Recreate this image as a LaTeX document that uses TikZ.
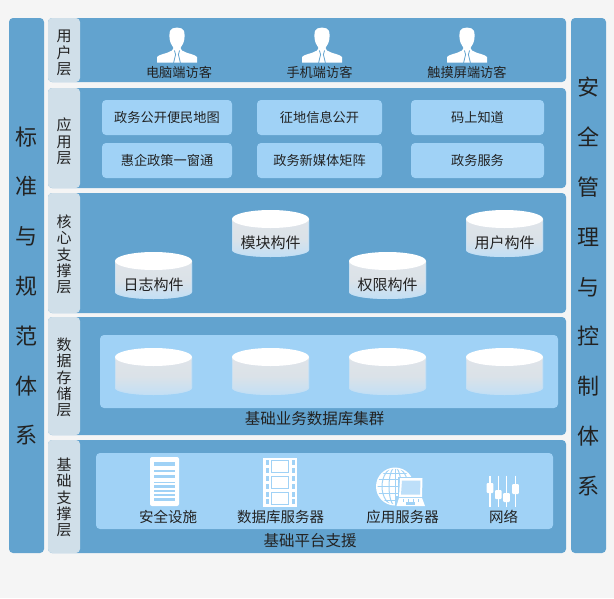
\documentclass[tikz,border=0pt]{standalone}
\usepackage{fontspec}
\setmainfont{Noto Sans CJK SC}
\usetikzlibrary{calc}
\definecolor{bgc}{HTML}{F5F5F5}
\definecolor{band}{HTML}{62A3CF}
\definecolor{tabc}{HTML}{D0DFE9}
\definecolor{panel}{HTML}{A0D2F6}
\definecolor{ink}{HTML}{222222}
\definecolor{cylg}{HTML}{DFE4E9}
\definecolor{cylm}{HTML}{DBE2E8}
\definecolor{cylb}{HTML}{C2DFF5}
\tikzset{
  bandbox/.style={fill=band,draw=none,rounded corners=4pt},
  tabbox/.style={fill=tabc,draw=none,rounded corners=4pt},
  panelbox/.style={fill=panel,draw=none,rounded corners=4pt},
  txt/.style={text=ink,inner sep=0pt,font=\fontsize{13.2}{15}\selectfont},
  captxt/.style={text=ink,inner sep=0pt,font=\fontsize{15}{17}\selectfont},
  vert/.style={text=ink,inner sep=0pt,align=center,font=\fontsize{15}{16.4}\selectfont},
  bigv/.style={text=ink,inner sep=0pt,align=center,font=\fontsize{22}{49.8}\selectfont},
  icon/.style={fill=white,draw=none},
  thinblue/.style={draw=panel,line width=.8pt},
}
% rect(name,x1,y1,x2,y2,style)
\newcommand{\rbox}[6]{\path[#6] (#2,#3) rectangle (#4,#5);\coordinate (#1) at ({(#2+#4)/2},{(#3+#5)/2});}
% app box
\newcommand{\appbox}[6]{\node[panelbox,minimum width=#4pt-#2pt,minimum height=#5pt-#3pt,inner sep=0pt,
  text=ink,font=\fontsize{13.2}{15}\selectfont] (#1) at ({(#2+#4)/2},{(#3+#5)/2}) {#6};}
% cylinder: name, left x, top y, label
\newcommand{\cyl}[4]{%
  \path[top color=cylg,bottom color=cylb,middle color=cylm]
    (#2,#3+9) -- ++(0,31) arc[start angle=180,end angle=0,x radius=38.5,y radius=7] -- ++(0,-31) -- cycle;
  \path[draw=cylb,line width=.8pt,opacity=.7]
    (#2+.4,#3+12) -- ++(0,28) arc[start angle=180,end angle=0,x radius=38.1,y radius=6.6] -- ++(0,-28);
  \path[fill=white] (#2+38.5,#3+9) ellipse[x radius=38.5,y radius=9];
  \node[captxt] (#1) at (#2+38.5,#3+33) {#4};}
% person icon centred at x
\newcommand{\person}[2]{\begin{scope}[shift={(#2,0)}]
  \path[icon] (-7,31) .. controls (-6,26.4) and (6,26.4) .. (7,31)
    .. controls (7.8,35) and (7.8,37) .. (7.2,40) .. controls (6.5,44) and (4,46.5) .. (3.5,48)
    -- (5,50.5) .. controls (9,53.5) and (19,54.5) .. (20,57) -- (20,62.5) -- (-20,62.5) -- (-20,57)
    .. controls (-19,54.5) and (-9,53.5) .. (-5,50.5) -- (-3.5,48)
    .. controls (-4,46.5) and (-6.5,44) .. (-7.2,40) .. controls (-7.8,37) and (-7.8,35) .. (-7,31) -- cycle;
  \draw[band,line width=.8pt] (-2.6,50.5) -- (-1.4,54.5) -- (-3.4,62.8);
  \draw[band,line width=.8pt] (2.6,50.5) -- (1.4,54.5) -- (3.4,62.8);
\end{scope}}
\begin{document}
\begin{tikzpicture}[x=1pt,y=-1pt]
\useasboundingbox (0,0) rectangle (614,598);
\path[fill=bgc] (0,0) rectangle (614,598);
% side columns
\rbox{leftcol}{9}{18}{44}{553}{bandbox}
\rbox{rightcol}{571}{18}{606}{553}{bandbox}
\node[bigv] (lefttxt) at (26.5,286) {标\\准\\与\\规\\范\\体\\系};
\node[bigv] (righttxt) at (588.5,286.5) {安\\全\\管\\理\\与\\控\\制\\体\\系};
% layers
\rbox{l1}{48}{18}{566}{82}{bandbox}
\rbox{l2}{48}{88}{566}{188}{bandbox}
\rbox{l3}{48}{193}{566}{313}{bandbox}
\rbox{l4}{48}{317}{566}{435}{bandbox}
\rbox{l5}{48}{440}{566}{553}{bandbox}
\rbox{t1}{48}{18}{80}{82}{tabbox}
\rbox{t2}{48}{88}{80}{188}{tabbox}
\rbox{t3}{48}{193}{80}{313}{tabbox}
\rbox{t4}{48}{317}{80}{435}{tabbox}
\rbox{t5}{48}{440}{80}{553}{tabbox}
\node[vert] (n1) at (64,53) {用\\户\\层};
\node[vert] (n2) at (64,141.5) {应\\用\\层};
\node[vert] (n3) at (64,254.5) {核\\心\\支\\撑\\层};
\node[vert] (n4) at (64,377.5) {数\\据\\存\\储\\层};
\node[vert] (n5) at (64,497.5) {基\\础\\支\\撑\\层};
% user layer
\person{p1}{177}\person{p2}{322}\person{p3}{467}
\node[txt] (u1) at (179,72) {电脑端访客};
\node[txt] (u2) at (319.5,72) {手机端访客};
\node[txt] (u3) at (467,72) {触摸屏端访客};
% app layer
\appbox{a1}{102}{100}{232}{135}{政务公开便民地图}
\appbox{a2}{257}{100}{382}{135}{征地信息公开}
\appbox{a3}{411}{100}{544}{135}{码上知道}
\appbox{a4}{102}{143}{232}{178}{惠企政策一窗通}
\appbox{a5}{257}{143}{382}{178}{政务新媒体矩阵}
\appbox{a6}{411}{143}{544}{178}{政务服务}
% core layer
\cyl{c1}{115}{252}{日志构件}
\cyl{c2}{232}{210}{模块构件}
\cyl{c3}{349}{252}{权限构件}
\cyl{c4}{466}{210}{用户构件}
% data layer
\rbox{dp}{100}{335}{558}{408}{panelbox}
\cyl{d1}{115}{348}{}
\cyl{d2}{232}{348}{}
\cyl{d3}{349}{348}{}
\cyl{d4}{466}{348}{}
\node[captxt,font=\fontsize{15.5}{17}\selectfont] (dt) at (314.5,419) {基础业务数据库集群};
% base layer
\rbox{bp}{96}{453}{553}{529}{panelbox}
\node[captxt,font=\fontsize{15.5}{17}\selectfont] (bt) at (310,541) {基础平台支援};
% document icon
\path[icon,rounded corners=2pt] (150,457) rectangle (179,506);
\foreach \yy/\hh in {462/3.5,470/2,475/3,481.7/1.6,485/3.3,490/1.7,494.3/1.7,498.3/2.7}{
  \path[fill=panel] (154,\yy) rectangle (175,\yy+\hh);}
% film icon
\path[icon] (263,458) rectangle (297,507);
\foreach \yy in {460,476,492}{\path[thinblue,fill=white] (271.5,\yy) rectangle (288.5,\yy+12);}
\foreach \yy in {460,468,476,484,491.5,499}{
  \path[fill=panel] (266,\yy) rectangle (269,\yy+5);
  \path[fill=panel] (291.5,\yy) rectangle (294.5,\yy+5);}
% globe icon
\path[icon] (395,486.5) circle[radius=19];
\begin{scope}
\clip (395,486.5) circle[radius=17.5];
\foreach \rx in {6,13}{\draw[panel,line width=1pt] (395,486.5) ellipse[x radius=\rx,y radius=19];}
\draw[panel,line width=1pt] (395,467) -- (395,506);
\foreach \yy in {473,479.5,486.5,493.5,500}{\draw[panel,line width=1pt] (375,\yy) -- (415,\yy);}
\end{scope}
\path[fill=panel] (398,476.5) rectangle (424,498);
\path[fill=panel] (394.5,496) rectangle (427,508);
\path[icon] (400,478) -- (422.5,478) -- (422,497) -- (399,497) -- cycle;
\path[fill=panel!70!white] (402,480.5) -- (420.5,480.5) -- (420,494.5) -- (401,494.5) -- cycle;
\path[icon] (399,498) -- (422,498) -- (425,506) -- (396.5,506) -- cycle;
\path[fill=panel] (406,502) rectangle (415,504.5);
\foreach \xx in {403,408,413,418}{\draw[panel,line width=.5pt] (\xx,499) -- (\xx,501.5);}
% slider icon
\foreach \xx/\ya/\yb in {490/483/493,498.3/490/499,506.5/493/502,515.5/484/494}{
  \draw[white,line width=1.3pt] (\xx,475.5) -- (\xx,507);
  \path[icon,rounded corners=1pt] (\xx-3.3,\ya) rectangle (\xx+3.3,\yb);}
\node[captxt,font=\fontsize{14.5}{17}\selectfont] (b1) at (168,517) {安全设施};
\node[captxt,font=\fontsize{14.5}{17}\selectfont] (b2) at (280.5,517) {数据库服务器};
\node[captxt,font=\fontsize{14.5}{17}\selectfont] (b3) at (402.5,517) {应用服务器};
\node[captxt,font=\fontsize{14.5}{17}\selectfont] (b4) at (503.5,517) {网络};
\end{tikzpicture}
\end{document}
